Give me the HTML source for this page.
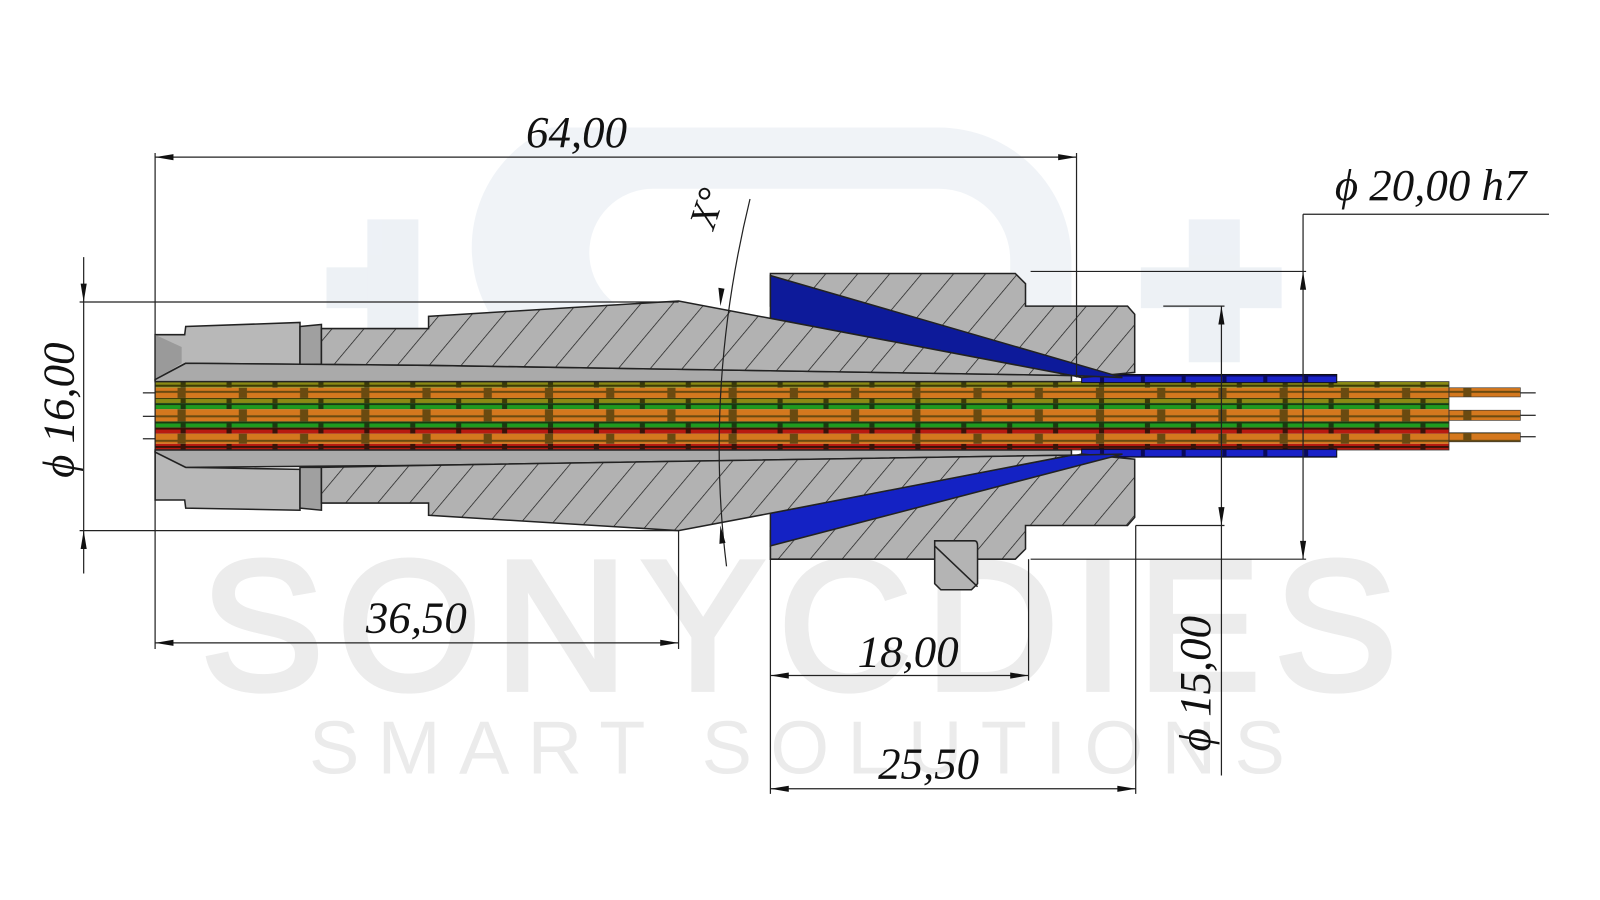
<!DOCTYPE html>
<html><head><meta charset="utf-8"><style>
html,body{margin:0;padding:0;background:#fff;width:1600px;height:900px;overflow:hidden}
svg{display:block}
text{font-family:"Liberation Serif",serif;font-style:italic;fill:#111}
</style></head><body>
<svg width="1600" height="900" viewBox="0 0 1568 882" xmlns="http://www.w3.org/2000/svg">
<defs>
<pattern id="h" patternUnits="userSpaceOnUse" width="24" height="24" patternTransform="rotate(40)">
<rect width="24" height="24" fill="#b2b2b2"/><line x1="0" y1="0" x2="0" y2="24" stroke="#1a1a1a" stroke-width="1.4"/>
</pattern>
<pattern id="c1" patternUnits="userSpaceOnUse" width="60" height="8">
<rect width="60" height="8" fill="#6a4a10"/><rect x="2" y="1" width="52" height="6" fill="#d4781e"/>
</pattern>
<pattern id="g" patternUnits="userSpaceOnUse" width="45" height="6">
<rect width="45" height="6" fill="#1a3a10"/><rect x="2" y="1" width="40" height="4" fill="#1f9a1f"/>
</pattern>
<pattern id="r" patternUnits="userSpaceOnUse" width="45" height="6">
<rect width="45" height="6" fill="#3a1208"/><rect x="2" y="1" width="40" height="4" fill="#b81a10"/>
</pattern>
<pattern id="y" patternUnits="userSpaceOnUse" width="45" height="6">
<rect width="45" height="6" fill="#3a3a08"/><rect x="2" y="1" width="40" height="4" fill="#8a8a14"/>
</pattern>
<pattern id="b" patternUnits="userSpaceOnUse" width="40" height="8">
<rect width="40" height="8" fill="#0a0a5a"/><rect x="2" y="1" width="36" height="6" fill="#1a22c8"/>
</pattern>
</defs>

<!-- watermark -->
<g opacity="0.55">
<rect x="320" y="262" width="80" height="40" fill="#dfe6ee"/><rect x="360" y="215" width="50" height="140" fill="#dfe6ee"/>
<rect x="1118" y="262" width="138" height="40" fill="#dfe6ee"/><rect x="1165" y="215" width="50" height="140" fill="#dfe6ee"/>
<path d="M540 125 H920 A130 130 0 0 1 1050 255 V300 H990 V255 A70 70 0 0 0 920 185 H640 A60 60 0 0 0 640 310 H760 V360 H640 A120 120 0 0 1 540 125Z" fill="#e4eaf1"/>
</g>
<text x="790" y="675" font-size="180" text-anchor="middle" style="font-style:normal;font-family:'Liberation Sans',sans-serif;letter-spacing:14px;fill:#ececec;stroke:#ececec;stroke-width:6">SONYCDIES</text>
<text x="790" y="758" font-size="74" text-anchor="middle" style="font-style:normal;font-family:'Liberation Sans',sans-serif;letter-spacing:18px;fill:#ebebeb">SMART SOLUTIONS</text>

<!-- cable bundle -->
<g>
<rect x="152" y="374" width="1268" height="6" fill="url(#y)"/>
<rect x="152" y="380" width="1268" height="10" fill="url(#c1)"/>
<rect x="152" y="390" width="1268" height="5" fill="url(#y)"/>
<rect x="152" y="395" width="1268" height="6" fill="url(#g)"/>
<rect x="152" y="401" width="1268" height="12" fill="url(#c1)"/>
<rect x="152" y="413" width="1268" height="6" fill="url(#g)"/>
<rect x="152" y="419" width="1268" height="6" fill="url(#r)"/>
<rect x="152" y="425" width="1268" height="10" fill="url(#c1)"/>
<rect x="152" y="435" width="1268" height="6" fill="url(#r)"/>
<rect x="1420" y="380" width="70" height="9" fill="url(#c1)" stroke="#333" stroke-width="0.6"/>
<rect x="1420" y="402" width="70" height="10" fill="url(#c1)" stroke="#333" stroke-width="0.6"/>
<rect x="1420" y="424" width="70" height="9" fill="url(#c1)" stroke="#333" stroke-width="0.6"/>
<rect x="152" y="374" width="1268" height="67" fill="none" stroke="#333" stroke-width="0.8"/>
</g>
<!-- blue sleeve -->
<rect x="1060" y="367" width="250" height="8" fill="url(#b)" stroke="#111"/>
<rect x="1060" y="440" width="250" height="8" fill="url(#b)" stroke="#111"/>

<!-- right nut hatched -->
<g stroke="#222" stroke-width="1.5">
<path d="M755 268 H995 L1005 278 V300 H1105 L1112 308 V365 L1060 370 L755 300Z" fill="url(#h)"/>
<path d="M755 548 H995 L1005 538 V515 H1105 L1112 507 V450 L1060 445 L755 520Z" fill="url(#h)"/>
<path d="M755 270 L755 312 L1050 368 L1100 370Z" fill="#0d1a9a"/>
<path d="M755 503 L755 535 L1100 445 L1050 446Z" fill="#1422c4"/>
<path d="M916 530 H955 Q958 530 958 535 V572 L952 578 H922 L916 572Z" fill="#b4b4b4"/>
<line x1="916" y1="535" x2="958" y2="575" stroke="#222"/>
</g>

<!-- left nut -->
<g stroke="#222" stroke-width="1.5" fill="#b8b8b8">
<path d="M152 328 H181 L182 320 L294 316 V357 L182 356 L152 372Z"/>
<path d="M152 328 L152 372 L178 356 V340Z" fill="#9a9a9a" stroke="none"/>
<path d="M152 490 H181 L182 498 L294 500 V460 L182 458 L152 443Z"/>
<path d="M294 320 L315 318 V357 L294 357Z" fill="#a0a0a0"/>
<path d="M294 498 L315 500 V458 L294 458Z" fill="#a0a0a0"/>
<path d="M182 356 L420 358 L1050 368 V374 H152 V372Z" fill="#aaa"/>
<path d="M182 458 L420 456 L1050 446 V441 H152 V443Z" fill="#aaa"/>
</g>
<!-- collet hatched -->
<g stroke="#222" stroke-width="1.5" fill="url(#h)">
<path d="M315 322 H420 V310 L665 295 L755 312 L1050 368 L420 358 L315 357Z"/>
<path d="M315 493 H420 V505 L665 520 L755 503 L1050 446 L420 456 L315 458Z"/>
</g>

<!-- dimension lines -->
<g stroke="#222" stroke-width="1.2" fill="none">
<line x1="152" y1="150" x2="152" y2="636"/>
<line x1="1055" y1="150" x2="1055" y2="370"/>
<line x1="152" y1="154" x2="1055" y2="154"/>
<line x1="82" y1="252" x2="82" y2="562"/>
<line x1="78" y1="296" x2="665" y2="296"/>
<line x1="78" y1="520" x2="665" y2="520"/>
<line x1="665" y1="520" x2="665" y2="636"/>
<line x1="152" y1="630" x2="665" y2="630"/>
<line x1="755" y1="535" x2="755" y2="778"/>
<line x1="1008" y1="548" x2="1008" y2="667"/>
<line x1="755" y1="662" x2="1008" y2="662"/>
<line x1="1113" y1="515" x2="1113" y2="778"/>
<line x1="755" y1="773" x2="1113" y2="773"/>
<line x1="1010" y1="266" x2="1280" y2="266"/>
<line x1="1010" y1="548" x2="1280" y2="548"/>
<line x1="1140" y1="300" x2="1200" y2="300"/>
<line x1="1113" y1="515" x2="1200" y2="515"/>
<line x1="1197" y1="300" x2="1197" y2="760"/>
<line x1="1277" y1="210" x2="1277" y2="548"/>
<line x1="1277" y1="210" x2="1518" y2="210"/>
<path d="M735 195 Q690 380 712 555"/>
<line x1="140" y1="385" x2="152" y2="385"/><line x1="140" y1="408" x2="152" y2="408"/><line x1="140" y1="430" x2="152" y2="430"/>
<line x1="1490" y1="385" x2="1505" y2="385"/><line x1="1490" y1="407" x2="1505" y2="407"/><line x1="1490" y1="428" x2="1505" y2="428"/>
</g>
<g fill="#111">
<path d="M152 154 l18 -3 v6z"/><path d="M1055 154 l-18 -3 v6z"/>
<path d="M82 296 l-3 -18 h6z"/><path d="M82 520 l-3 18 h6z"/>
<path d="M152 630 l18 -3 v6z"/><path d="M665 630 l-18 -3 v6z"/>
<path d="M755 662 l18 -3 v6z"/><path d="M1008 662 l-18 -3 v6z"/>
<path d="M755 773 l18 -3 v6z"/><path d="M1113 773 l-18 -3 v6z"/>
<path d="M1197 300 l-3 18 h6z"/><path d="M1197 515 l-3 -18 h6z"/>
<path d="M1277 266 l-3 18 h6z"/><path d="M1277 548 l-3 -18 h6z"/>
<path d="M706 300 l-2 -18 l6 1z"/><path d="M706 515 l-1 18 l6 -1z"/>
</g>

<!-- labels -->
<g font-size="44">
<text x="565" y="144" text-anchor="middle">64,00</text>
<text x="408" y="620" text-anchor="middle">36,50</text>
<text x="890" y="653" text-anchor="middle">18,00</text>
<text x="910" y="763" text-anchor="middle">25,50</text>
<text x="1402" y="196" text-anchor="middle">ϕ 20,00 h7</text>
<text transform="translate(72,402) rotate(-90)" text-anchor="middle">ϕ 16,00</text>
<text transform="translate(1186,670) rotate(-90)" text-anchor="middle">ϕ 15,00</text>
<text transform="translate(705,208) rotate(-72)" text-anchor="middle" font-size="38">X°</text>
</g>
</svg>
</body></html>
